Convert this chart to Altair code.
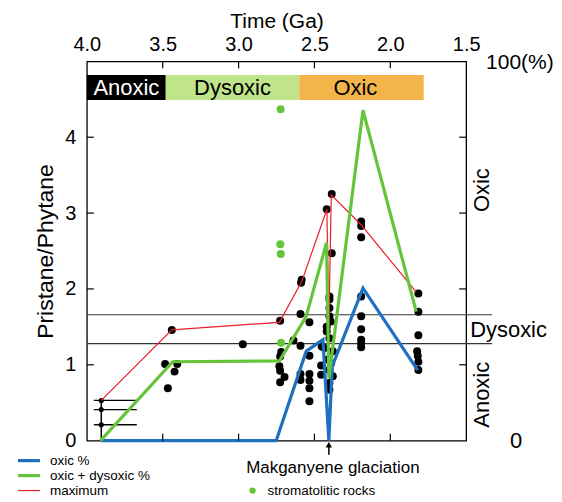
import altair as alt
import pandas as pd

FONT = "Liberation Sans"

# ---------------- data ----------------
# black data points (Ga, Pristane/Phytane)
pt_ga = [3.440, 3.484, 3.404, 3.422, 3.466,
         2.972,
         2.726, 2.719, 2.726, 2.731, 2.726, 2.697, 2.726,
         2.584, 2.588, 2.592, 2.533, 2.638, 2.592, 2.533, 2.592, 2.592, 2.533, 2.533, 2.533, 2.533,
         2.456, 2.456, 2.452,
         2.419, 2.386, 2.386, 2.401, 2.401, 2.401, 2.401, 2.419, 2.419, 2.392, 2.401, 2.434,
         2.379, 2.412, 2.390, 2.401, 2.379, 2.401, 2.401,
         2.192, 2.192, 2.192, 2.192, 2.192, 2.192, 2.192, 2.192, 2.192,
         1.815, 1.815, 1.815, 1.823, 1.819, 1.815, 1.815]
pt_val = [1.46, 1.01, 1.01, 0.91, 0.69,
          1.27,
          1.58, 1.17, 1.11, 0.98, 0.92, 0.84, 0.77,
          2.12, 2.08, 1.67, 1.56, 1.32, 1.25, 1.12, 0.88, 0.80, 0.88, 0.79, 0.69, 0.52,
          0.99, 0.87, 1.24,
          3.05, 3.25, 2.47, 1.90, 1.86, 1.75, 1.64, 1.50, 1.44, 1.57, 1.35, 1.22,
          1.18, 1.07, 1.02, 0.93, 0.85, 0.76, 0.67,
          2.89, 2.83, 2.68, 1.90, 1.64, 1.47, 1.33, 1.28, 1.23,
          1.94, 1.70, 1.39, 1.18, 1.12, 1.04, 0.93]

# stromatolitic rocks (green points)
st_ga = [2.723, 2.725, 2.722, 2.720]
st_val = [4.37, 2.59, 2.46, 1.29]

# Anoxic range (small points with bars)
an_ga = 3.905
an_val = [0.53, 0.41, 0.21]
an_bar_from = 3.954
an_bar_to = 3.671

# lines
max_ga = [3.905, 3.440, 2.731, 2.583, 2.418, 2.405, 2.389, 2.190, 1.830]
max_val = [0.53, 1.46, 1.56, 2.10, 3.05, 1.50, 3.24, 2.84, 1.96]

oxic_ga = [3.905, 2.752, 2.554, 2.444, 2.405, 2.383, 2.180, 1.820]
oxic_pct = [0.0, 0.0, 23.6, 26.6, 0.0, 19.6, 40.2, 18.6]

oxdy_ga = [3.910, 3.434, 2.731, 2.555, 2.420, 2.405, 2.180, 1.829]
oxdy_pct = [0.0, 20.8, 21.0, 32.7, 52.2, 16.4, 87.1, 34.0]

# threshold lines
thresholds = [1.66, 1.28]

# redox bands on top
band_names = ["Anoxic", "Dysoxic", "Oxic"]
band_from = [4.0, 3.48, 2.60]
band_to = [3.48, 2.60, 1.78]
band_label_ga = [3.74, 3.04, 2.23]
band_fill = ["#000000", "#bfe48a", "#f3b44a"]
band_text = ["#ffffff", "#000000", "#000000"]
band_top, band_bottom = 4.82, 4.49

x_ticks = [4.0, 3.5, 3.0, 2.5, 2.0, 1.5]
y_ticks = [0, 1, 2, 3, 4]
inner_x_ticks = [3.5, 3.0, 2.5, 2.0]
inner_y_ticks = [1, 2, 3, 4]

glaciation_ga = 2.405

C_BLUE = "#1f70c1"
C_GREEN = "#66c43a"
C_RED = "#ee1d2a"

W, H = 380, 380

# ---------------- frames ----------------
pts = pd.DataFrame({"ga": pt_ga, "val": pt_val})
st = pd.DataFrame({"ga": st_ga, "val": st_val})
an = pd.DataFrame({"ga": [an_ga] * len(an_val), "val": an_val,
                   "g1": [an_bar_from] * len(an_val), "g2": [an_bar_to] * len(an_val)})
an_v = pd.DataFrame({"ga": [an_ga], "v1": [0.0], "v2": [max(an_val)]})
mx = pd.DataFrame({"ga": max_ga, "val": max_val, "o": range(len(max_ga))})
ox = pd.DataFrame({"ga": oxic_ga, "pct": oxic_pct, "o": range(len(oxic_ga))})
od = pd.DataFrame({"ga": oxdy_ga, "pct": oxdy_pct, "o": range(len(oxdy_ga))})
thr = pd.DataFrame({"val": thresholds})
bands = pd.DataFrame({"name": band_names, "g1": band_from, "g2": band_to,
                      "gl": band_label_ga, "fill": band_fill, "tc": band_text,
                      "v1": [band_top] * 3, "v2": [band_bottom] * 3})
xt = pd.DataFrame({"ga": inner_x_ticks})
yt = pd.DataFrame({"val": inner_y_ticks})
one = pd.DataFrame({"k": [0]})

xscale = alt.Scale(domain=[1.5, 4.0], reverse=True, nice=False, zero=False)
yscale = alt.Scale(domain=[0, 5], nice=False, zero=False)

xaxis = alt.Axis(orient="top", values=x_ticks, format=".1f", title="Time (Ga)",
                 domain=False, ticks=False, grid=False, labelFontSize=20, titleFontSize=21,
                 labelFont=FONT, titleFont=FONT, titleFontWeight="normal",
                 labelColor="black", titleColor="black", labelPadding=7, titlePadding=3,
                 labelFlush=False, labelOverlap=False)
yaxis = alt.Axis(orient="left", values=y_ticks, format="d", title="Pristane/Phytane",
                 domain=False, ticks=False, grid=False, labelFontSize=20, titleFontSize=23,
                 labelFont=FONT, titleFont=FONT, titleFontWeight="normal",
                 labelColor="black", titleColor="black", labelPadding=11, titlePadding=7,
                 labelFlush=False, labelOverlap=False)

X = lambda f: alt.X(f, type="quantitative", scale=xscale, axis=xaxis)
Y = lambda f: alt.Y(f, type="quantitative", scale=yscale, axis=yaxis)

layers = []

# bands
layers.append(alt.Chart(bands).mark_rect().encode(
    x=X("g1"), x2="g2", y=Y("v1"), y2="v2",
    color=alt.Color("fill:N", scale=None)))
layers.append(alt.Chart(bands).mark_text(font=FONT, fontSize=22, baseline="middle").encode(
    x=X("gl"), y=alt.value(26.5), text="name:N",
    color=alt.Color("tc:N", scale=None)))

# thresholds (extend right beyond the frame)
layers.append(alt.Chart(thr).mark_rule(color="#333333", strokeWidth=1.2, clip=False).encode(
    y=Y("val"), x=alt.value(0), x2=alt.value(W + 26)))

# anoxic bars
layers.append(alt.Chart(an).mark_rule(color="black", strokeWidth=1.3).encode(
    x=X("g1"), x2="g2", y=Y("val")))
layers.append(alt.Chart(an_v).mark_rule(color="black", strokeWidth=1.5).encode(
    x=X("ga"), y=Y("v1"), y2="v2"))
layers.append(alt.Chart(an).mark_circle(color="black", size=26, opacity=1).encode(
    x=X("ga"), y=Y("val")))

# points
layers.append(alt.Chart(pts).mark_circle(color="black", size=64, opacity=1).encode(
    x=X("ga"), y=Y("val")))
layers.append(alt.Chart(st).mark_circle(color=C_GREEN, size=64, opacity=1).encode(
    x=X("ga"), y=Y("val")))

# lines
layers.append(alt.Chart(mx).mark_line(color=C_RED, strokeWidth=1.2).encode(
    x=X("ga"), y=Y("val"), order="o:Q"))
layers.append(alt.Chart(ox).transform_calculate(val="datum.pct * 5 / 100").mark_line(
    color=C_BLUE, strokeWidth=3.2).encode(x=X("ga"), y=Y("val"), order="o:Q"))
layers.append(alt.Chart(od).transform_calculate(val="datum.pct * 5 / 100").mark_line(
    color=C_GREEN, strokeWidth=3.2).encode(x=X("ga"), y=Y("val"), order="o:Q"))

# inward ticks
layers.append(alt.Chart(xt).mark_rule(color="black", strokeWidth=1.2).encode(
    x=X("ga"), y=alt.value(0), y2=alt.value(7)))
layers.append(alt.Chart(xt).mark_rule(color="black", strokeWidth=1.2).encode(
    x=X("ga"), y=alt.value(H), y2=alt.value(H - 7)))
layers.append(alt.Chart(yt).mark_rule(color="black", strokeWidth=1.2).encode(
    y=Y("val"), x=alt.value(0), x2=alt.value(7)))
layers.append(alt.Chart(yt).mark_rule(color="black", strokeWidth=1.2).encode(
    y=Y("val"), x=alt.value(W), x2=alt.value(W - 7)))

# right-hand labels
def txt(t, x, y, size=22, angle=0, align="left"):
    return alt.Chart(one).mark_text(text=t, font=FONT, fontSize=size, angle=angle,
                                    align=align, baseline="middle", color="black").encode(
        x=alt.value(x), y=alt.value(y))

layers.append(txt("100(%)", W + 20, 2, size=21))
layers.append(txt("0", W + 44, H))
layers.append(txt("Oxic", W + 16, 129, angle=270, align="center"))
layers.append(txt("Dysoxic", W + 4, 269))
layers.append(txt("Anoxic", W + 16, 334, angle=270, align="center"))

# glaciation arrow
gl = pd.DataFrame({"ga": [glaciation_ga]})
layers.append(alt.Chart(gl).mark_rule(color="black", strokeWidth=1.5).encode(
    x=X("ga"), y=alt.value(H + 4), y2=alt.value(H + 14)))
layers.append(alt.Chart(gl).mark_point(shape="triangle-up", filled=True, color="black",
                                       size=40, opacity=1).encode(
    x=X("ga"), y=alt.value(H + 4)))
layers.append(alt.Chart(gl).mark_text(text="Makganyene glaciation", font=FONT, fontSize=17,
                                      align="center", baseline="middle", color="black", dx=4).encode(
    x=X("ga"), y=alt.value(H + 27)))

# legend
leg_items = [("oxic %", C_BLUE, 3.2), ("oxic + dysoxic %", C_GREEN, 3.2), ("maximum", C_RED, 1.2)]
for i, (lab, col, sw) in enumerate(leg_items):
    yy = H + 20 + 15 * i
    layers.append(alt.Chart(one).mark_rule(color=col, strokeWidth=sw).encode(
        x=alt.value(-69), x2=alt.value(-47), y=alt.value(yy)))
    layers.append(txt(lab, -37, yy, size=13.5))
layers.append(alt.Chart(one).mark_circle(color=C_GREEN, size=40, opacity=1).encode(
    x=alt.value(166), y=alt.value(H + 50)))
layers.append(txt("stromatolitic rocks", 181, H + 50, size=13.5))

chart = alt.layer(*layers).properties(
    width=W, height=H,
    autosize=alt.AutoSizeParams(type="none"),
    padding={"left": 79, "top": 53, "right": 88, "bottom": 58},
).configure_view(stroke="black", strokeWidth=1.3)

chart.save("out.html", embed_options={"renderer": "svg", "actions": False})
